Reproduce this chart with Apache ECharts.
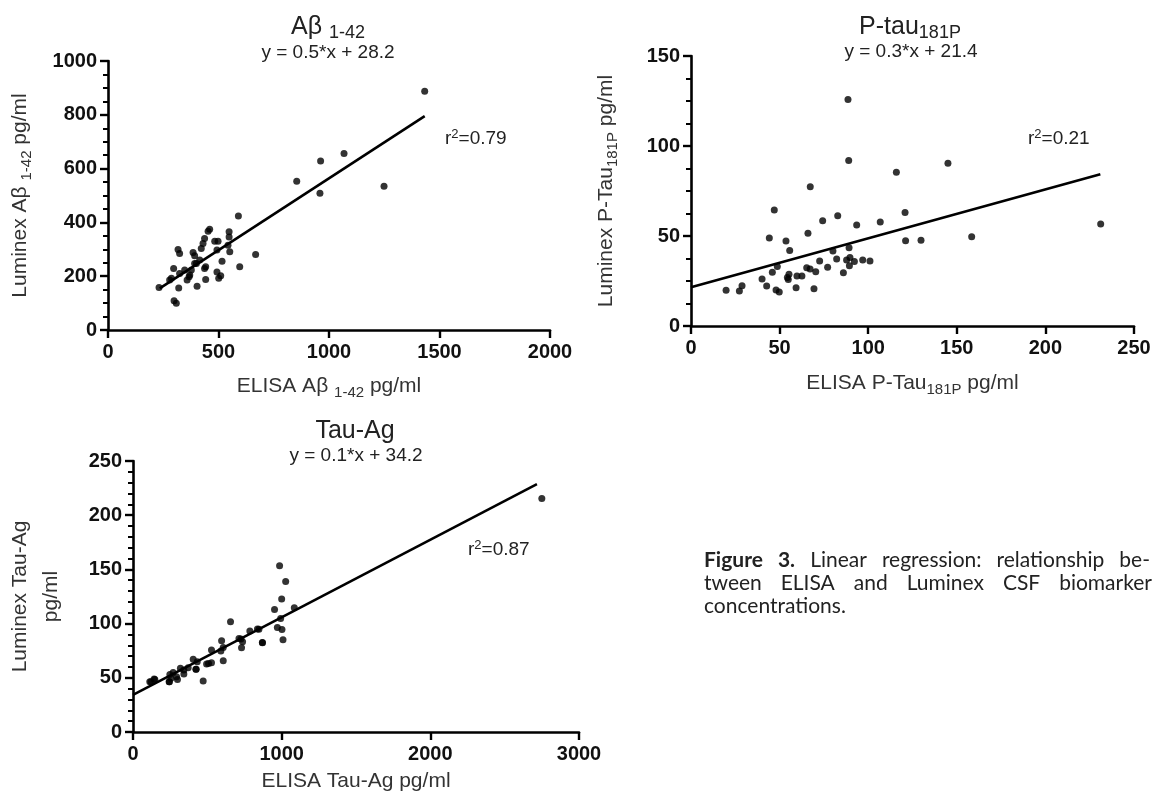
<!DOCTYPE html>
<html>
<head>
<meta charset="utf-8">
<script src="https://cdn.jsdelivr.net/npm/echarts@6/dist/echarts.min.js"></script>
<style>
html,body{margin:0;padding:0;background:#fff;}
#c{width:1154px;height:795px;}
</style>
</head>
<body>
<div id="c"></div>
<script>
// ---- Data: Aβ 1-42 (ELISA x, Luminex y) ----
const abX = [1433,962,1068,854,959,1249,590,668,596,460,453,437,430,483,498,548,548,543,551,493,516,317,324,385,392,400,422,437,442,442,403,493,501,510,367,358,347,297,287,279,231,320,299,309,377,415,370,324,392];
const abY = [888,628,656,553,508,534,424,281,235,375,367,340,322,330,330,365,346,315,291,297,256,299,284,288,276,247,303,229,235,188,163,216,192,202,198,186,223,229,192,186,158,156,109,99,223,260,204,210,247];
const abLine = [[234,155],[1433,795]];

// ---- Data: P-tau181P ----
const ptX = [88.6,89,115.9,145,67.3,47,82.8,120.8,74.3,93.5,106.8,231.2,66,44.2,53.6,121.1,129.8,158.4,55.7,80.1,89.2,82.2,87.8,89.7,92.2,96.9,101,72.6,48.7,45.9,55.3,54.4,54.9,59.8,62.6,65.3,67.2,70.4,77.1,86,89.4,40.1,42.7,28.8,19.8,27.3,48,49.8,59.3,69.4];
const ptY = [125.9,91.9,85.4,90.4,77.4,64.4,61.3,63,58.5,56.1,57.8,56.7,51.5,48.9,47.2,47.4,47.6,49.6,42,41.7,43.5,37.2,36.7,38.1,35.9,36.7,36.1,36.1,33,29.8,28.7,27,25.9,27.8,27.8,32.4,31.7,30.2,32.6,29.6,33.5,26.1,22.2,22.4,19.8,19.4,20,18.9,21.3,20.7];
const ptLine = [[0,21.5],[231,84.3]];

// ---- Data: Tau-Ag ----
const taX = [2750,986,1027,1000,1085,952,993,971,1002,1009,656,786,847,870,726,737,730,596,607,591,528,607,528,495,472,405,432,423,371,342,319,342,293,270,248,255,243,299,142,113,508,425,871,713,837,147,121,245];
const taY = [215.4,153.3,138.9,122.6,114.6,113.1,104.8,96.5,94.6,85.1,101.7,93.1,94.9,82.6,85.7,83.3,77.7,84.2,78,74.7,75.6,65.7,63.9,62.7,47,67,64.8,57.8,59.3,57.1,58.7,53.5,51,55,53.1,49.5,46.4,48.5,48.8,46.4,63.3,57.8,82.3,86.3,95,48.5,46.4,46.4];
const taLine = [[0,34.2],[2717,228.6]];

// ---- Tick settings ----
const abXTicks = {min:0, max:2000, interval:500};
const abYTicks = {min:0, max:1000, interval:200};
const ptXTicks = {min:0, max:250, interval:50};
const ptYTicks = {min:0, max:150, interval:50};
const taXTicks = {min:0, max:3000, interval:1000};
const taYTicks = {min:0, max:250, interval:50};

// ---- Caption text ----
const captionLine1 = [{t:'Figure', b:true}, {t:'3.', b:true}, {t:'Linear'}, {t:'regression:'}, {t:'relationship'}, {t:'be-'}];
const captionLine2 = [{t:'tween'}, {t:'ELISA'}, {t:'and'}, {t:'Luminex'}, {t:'CSF'}, {t:'biomarker'}];
const captionLine3 = 'concentrations.';

const FONT = "'Liberation Sans', Arial, Helvetica, sans-serif";
const CAPFONT = "Lato, 'Open Sans', sans-serif";
const zip = (a,b) => a.map((v,i)=>[v,b[i]]);
const plainNum = v => String(v);

function xAxisCfg(t, gi, name, gap, rich){
  return {
    type:'value', gridIndex:gi, min:t.min, max:t.max, interval:t.interval,
    name:name, nameLocation:'middle', nameGap:gap,
    nameTextStyle:{fontFamily:FONT, fontSize:21, color:'#333', rich:rich},
    axisLine:{show:true, onZero:false, lineStyle:{color:'#000', width:2.6}},
    axisTick:{show:true, length:8, lineStyle:{color:'#000', width:2.4}},
    axisLabel:{fontFamily:FONT, fontSize:20, fontWeight:'bold', color:'#111', margin:12, formatter:plainNum},
    splitLine:{show:false}
  };
}
function yAxisCfg(t, gi, name, gap, minorSplit, rich){
  return {
    type:'value', gridIndex:gi, min:t.min, max:t.max, interval:t.interval,
    name:name, nameLocation:'middle', nameGap:gap,
    nameTextStyle:{fontFamily:FONT, fontSize:21, color:'#333', rich:rich, lineHeight:31},
    axisLine:{show:true, onZero:false, lineStyle:{color:'#000', width:2.6}},
    axisTick:{show:true, length:8, lineStyle:{color:'#000', width:2.4}},
    minorTick:{show:true, splitNumber:minorSplit, length:5, lineStyle:{color:'#000', width:2}},
    axisLabel:{fontFamily:FONT, fontSize:20, fontWeight:'bold', color:'#111', margin:11, formatter:plainNum},
    splitLine:{show:false}, minorSplitLine:{show:false}
  };
}
const subRich = {
  n:{fontFamily:FONT, fontSize:21, color:'#333', lineHeight:28},
  s:{fontFamily:FONT, fontSize:15, color:'#333', verticalAlign:'bottom', lineHeight:15}
};

function scatter(gi, x, y){
  return {type:'scatter', xAxisIndex:gi, yAxisIndex:gi, data:zip(x,y), symbolSize:7,
    itemStyle:{color:'#000'}, silent:true, z:3};
}
function fitLine(gi, d){
  return {type:'line', xAxisIndex:gi, yAxisIndex:gi, data:d, symbol:'none',
    lineStyle:{color:'#000', width:2.6}, silent:true, z:2};
}

function txt(x, y, text, size, align, rich, family, weight){
  return {type:'text', x:x, y:y, silent:true,
    style:{text:text, fontFamily:family||FONT, fontSize:size, fontWeight:weight||'normal', fill:'#222',
      align:align||'center', verticalAlign:'middle', rich:rich}};
}
const titleRich = {
  t:{fontFamily:FONT, fontSize:25, color:'#222', lineHeight:30},
  s:{fontFamily:FONT, fontSize:18, color:'#222', verticalAlign:'bottom', lineHeight:17}
};
const supRich = {
  t:{fontFamily:FONT, fontSize:19, color:'#222', lineHeight:22},
  u:{fontFamily:FONT, fontSize:13, color:'#222', verticalAlign:'top', lineHeight:13}
};

// justified caption line (word placement measured at runtime)
const measureCtx = document.createElement('canvas').getContext('2d');
function justify(words, x0, x1, y, size){
  const w = words.map(o => { measureCtx.font = (o.b?'bold ':'') + size + 'px ' + CAPFONT; return measureCtx.measureText(o.t).width; });
  const total = w.reduce((a,b)=>a+b,0);
  const gap = (x1 - x0 - total) / (words.length - 1);
  let x = x0; const out = [];
  words.forEach((o,i) => { out.push(txt(x, y, o.t, size, 'left', null, CAPFONT, o.b?'bold':'normal')); x += w[i] + gap; });
  return out;
}
const CAPSIZE = 21;

const option = {
  animation:false,
  backgroundColor:'#fff',
  grid:[
    {left:108, top:61, width:442, height:269},
    {left:691, top:56, width:443, height:270},
    {left:133, top:461, width:446, height:271}
  ],
  xAxis:[
    xAxisCfg(abXTicks, 0, '{n|ELISA Aβ }{s|1-42}{n| pg/ml}', 42, subRich),
    xAxisCfg(ptXTicks, 1, '{n|ELISA P-Tau}{s|181P}{n| pg/ml}', 43, subRich),
    xAxisCfg(taXTicks, 2, 'ELISA Tau-Ag pg/ml', 39, null)
  ],
  yAxis:[
    yAxisCfg(abYTicks, 0, '{n|Luminex Aβ }{s|1-42}{n| pg/ml}', 74, 4, subRich),
    yAxisCfg(ptYTicks, 1, '{n|Luminex P-Tau}{s|181P}{n| pg/ml}', 71, 4, subRich),
    yAxisCfg(taYTicks, 2, 'Luminex Tau-Ag\npg/ml', 66, 5, null)
  ],
  series:[
    scatter(0, abX, abY), fitLine(0, abLine),
    scatter(1, ptX, ptY), fitLine(1, ptLine),
    scatter(2, taX, taY), fitLine(2, taLine)
  ],
  graphic:[
    txt(328, 27, '{t|Aβ }{s|1-42}', 25, 'center', titleRich),
    txt(328, 53, 'y = 0.5*x + 28.2', 19, 'center'),
    txt(910, 27, '{t|P-tau}{s|181P}', 25, 'center', titleRich),
    txt(911, 52, 'y = 0.3*x + 21.4', 19, 'center'),
    txt(355, 431, 'Tau-Ag', 25, 'center'),
    txt(356, 456, 'y = 0.1*x + 34.2', 19, 'center'),
    txt(445, 139, '{t|r}{u|2}{t|=0.79}', 19, 'left', supRich),
    txt(1028, 139, '{t|r}{u|2}{t|=0.21}', 19, 'left', supRich),
    txt(468, 550, '{t|r}{u|2}{t|=0.87}', 19, 'left', supRich)
  ].concat(
    justify(captionLine1, 704, 1150, 560, CAPSIZE),
    justify(captionLine2, 704, 1152, 583, CAPSIZE),
    [txt(704, 606, captionLine3, CAPSIZE, 'left', null, CAPFONT)]
  )
};
const chart = echarts.init(document.getElementById('c'), null, {renderer:'canvas'});
chart.setOption(option);
</script>
</body>
</html>
